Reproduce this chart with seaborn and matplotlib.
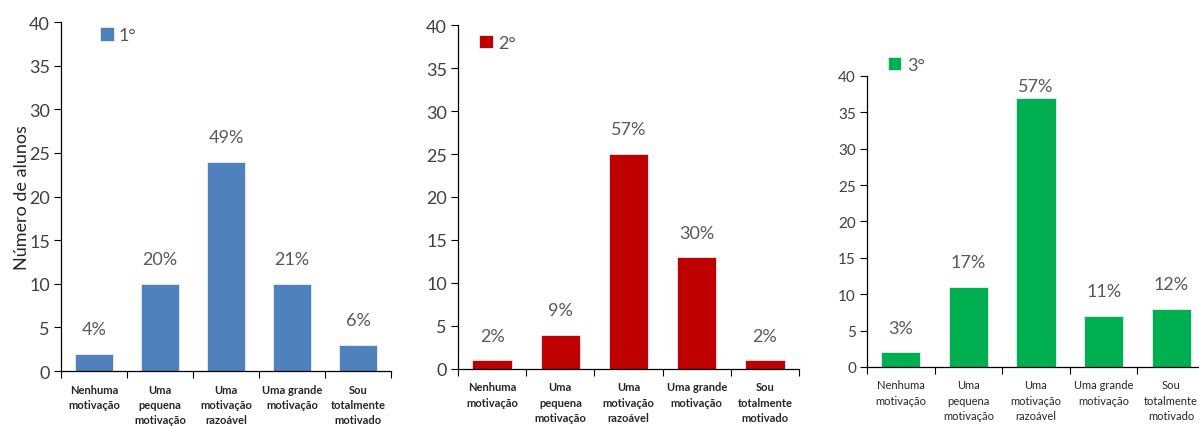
import matplotlib
matplotlib.use('Agg')
import matplotlib.pyplot as plt
import seaborn as sns
import pandas as pd

# dados
categorias = ['Nenhuma\nmotivação', 'Uma\npequena\nmotivação', 'Uma\nmotivação\nrazoável',
              'Uma grande\nmotivação', 'Sou\ntotalmente\nmotivado']
series = ['1°', '2°', '3°']
alunos_1 = [2, 10, 24, 10, 3]
alunos_2 = [1, 4, 25, 13, 1]
alunos_3 = [2, 11, 37, 7, 8]
pct_1 = ['4%', '20%', '49%', '21%', '6%']
pct_2 = ['2%', '9%', '57%', '30%', '2%']
pct_3 = ['3%', '17%', '57%', '11%', '12%']
cores = ['#4F81BD', '#C00000', '#00B050']

sns.set_style('white')
plt.rcParams['font.family'] = ['Lato', 'DejaVu Sans']

fig = plt.figure(figsize=(11.99, 4.27), dpi=100)

# posições dos painéis (fração da figura)
boxes = [[0.0509, 0.1288, 0.2752, 0.8172],
         [0.3820, 0.1335, 0.2844, 0.8056],
         [0.7231, 0.1382, 0.2819, 0.6815]]
leg_pos = [(0.118, 0.985), (0.062, 0.972), (0.062, 1.065)]
tick_size = [13, 13, 11]
cat_weight = ['bold', 'bold', 'normal']

dados = [alunos_1, alunos_2, alunos_3]
pcts = [pct_1, pct_2, pct_3]

for i in range(3):
    ax = fig.add_axes(boxes[i])
    df = pd.DataFrame({'cat': categorias, 'n': dados[i]})
    sns.barplot(data=df, x='cat', y='n', color=cores[i], width=0.58,
                saturation=1, edgecolor='#e8eef8', linewidth=0.6,
                label=series[i], ax=ax)
    ax.set_ylim(0, 40)
    ax.set_xlim(-0.5, 4.5)
    ax.set_yticks(range(0, 41, 5))
    ax.tick_params(axis='y', labelsize=tick_size[i], colors='#404040',
                   left=True, length=5, width=0.8, pad=3)
    ax.tick_params(axis='y', color='black')
    ax.set_xticks(range(5))
    ax.set_xticklabels(categorias, fontsize=8, fontweight=cat_weight[i],
                       color='#262626', linespacing=1.45)
    ax.tick_params(axis='x', length=0, pad=9)
    ax.set_xticks([k - 0.5 for k in range(6)], minor=True)
    ax.tick_params(axis='x', which='minor', bottom=True, length=5,
                   width=0.8, color='black')
    ax.set_xlabel('')
    ax.set_ylabel('')
    sns.despine(ax=ax)
    for s in ['left', 'bottom']:
        ax.spines[s].set_color('black')
        ax.spines[s].set_linewidth(0.9)

    for k, (v, t) in enumerate(zip(dados[i], pcts[i])):
        off = 12 if v < 34 else 3
        ax.annotate(t, (k, v), xytext=(0, off), textcoords='offset points',
                    ha='center', va='bottom', fontsize=13, color='#595959')

    ax.legend(loc='upper left', bbox_to_anchor=leg_pos[i], frameon=False,
              handlelength=0.75, handleheight=0.75, handletextpad=0.3,
              borderpad=0, borderaxespad=0, fontsize=13, labelcolor='#595959')

    if i == 0:
        ax.set_ylabel('Número de alunos', fontsize=13, color='#262626')
        ax.yaxis.set_label_coords(-0.094, 0.5)

fig.savefig('out.png', dpi=100)
